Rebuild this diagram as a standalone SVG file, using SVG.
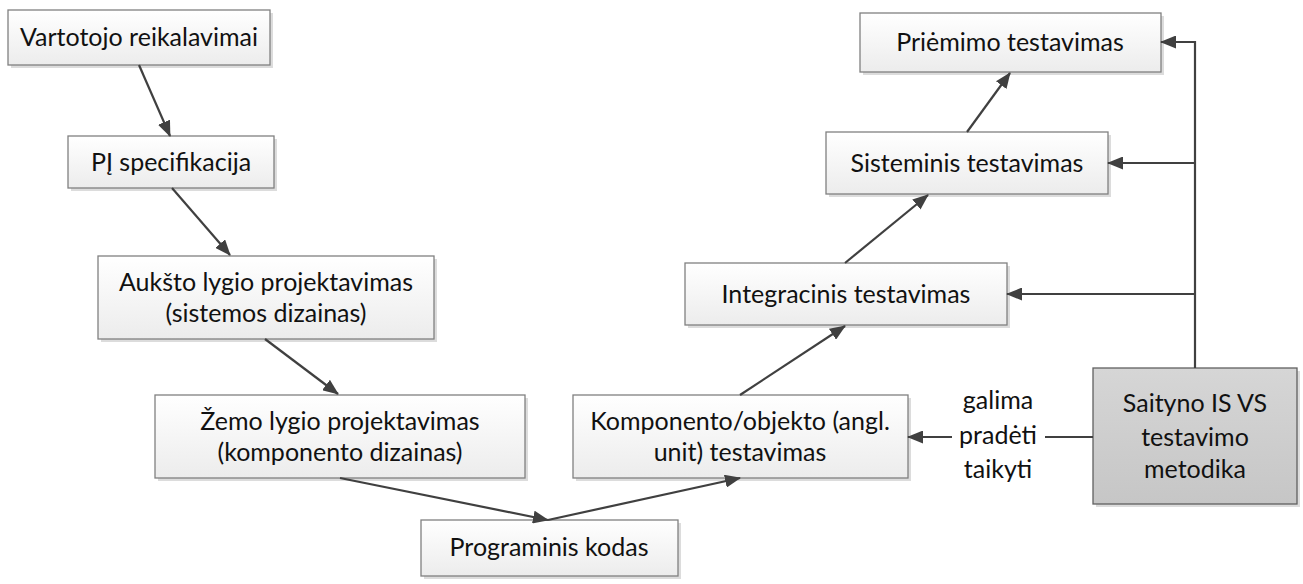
<svg xmlns="http://www.w3.org/2000/svg" width="1303" height="584" viewBox="0 0 1303 584">
<style>
.box{fill:url(#g);stroke:#808080;stroke-width:1.3}
.dark{fill:url(#gd);stroke:#606060;stroke-width:1.3}
.sh{fill:#dcdcdc}
text{font-family:Lato,"Open Sans","Liberation Sans",sans-serif;font-size:25px;fill:#111;text-anchor:middle}
.c{fill:none;stroke:#404040;stroke-width:2.2}
</style>
<defs>
<linearGradient id="g" x1="0" y1="0" x2="0" y2="1"><stop offset="0" stop-color="#ffffff"/><stop offset="1" stop-color="#ececec"/></linearGradient>
<linearGradient id="gd" x1="0" y1="0" x2="0" y2="1"><stop offset="0" stop-color="#d6d6d6"/><stop offset="1" stop-color="#c6c6c6"/></linearGradient>
<marker id="a" viewBox="0 0 16 13" refX="15" refY="6.5" markerWidth="16" markerHeight="13" markerUnits="userSpaceOnUse" orient="auto"><path d="M0,0 L16,6.5 L0,13 Z" fill="#404040"/></marker>
</defs>
<g id="n1"><rect class="sh" x="11" y="13" width="262" height="55"/><rect class="box" x="8" y="10" width="262" height="55"/><text x="139" y="46">Vartotojo reikalavimai</text></g>
<g id="n2"><rect class="sh" x="71" y="139" width="206" height="52"/><rect class="box" x="68" y="136" width="206" height="52"/><text x="171" y="171">PĮ specifikacija</text></g>
<g id="n3"><rect class="sh" x="101" y="259" width="336" height="83"/><rect class="box" x="98" y="256" width="336" height="83"/><text x="266" y="291">Aukšto lygio projektavimas</text><text x="266" y="322">(sistemos dizainas)</text></g>
<g id="n4"><rect class="sh" x="158" y="398" width="370" height="83"/><rect class="box" x="155" y="395" width="370" height="83"/><text x="340" y="430">Žemo lygio projektavimas</text><text x="340" y="461">(komponento dizainas)</text></g>
<g id="n5"><rect class="sh" x="424" y="523" width="257" height="56"/><rect class="box" x="421" y="520" width="257" height="56"/><text x="549" y="556">Programinis kodas</text></g>
<g id="n6"><rect class="sh" x="576" y="398" width="335" height="83"/><rect class="box" x="573" y="395" width="335" height="83"/><text x="740" y="430">Komponento/objekto (angl.</text><text x="740" y="461">unit) testavimas</text></g>
<g id="n7"><rect class="sh" x="688" y="266" width="322" height="62"/><rect class="box" x="685" y="263" width="322" height="62"/><text x="846" y="303">Integracinis testavimas</text></g>
<g id="n8"><rect class="sh" x="829" y="135" width="282" height="62"/><rect class="box" x="826" y="132" width="282" height="62"/><text x="967" y="172">Sisteminis testavimas</text></g>
<g id="n9"><rect class="sh" x="863" y="16" width="301" height="59"/><rect class="box" x="860" y="13" width="301" height="59"/><text x="1010" y="51">Priėmimo testavimas</text></g>
<g id="n10"><rect class="sh" x="1096" y="371" width="204" height="136"/><rect class="dark" x="1093" y="368" width="204" height="136"/><text x="1195" y="412">Saityno IS VS</text><text x="1195" y="446">testavimo</text><text x="1195" y="478">metodika</text></g>
<g id="connectors">
<line class="c" x1="139" y1="65" x2="170" y2="136" marker-end="url(#a)"/>
<line class="c" x1="172" y1="188" x2="230" y2="255" marker-end="url(#a)"/>
<line class="c" x1="265" y1="339" x2="338" y2="394" marker-end="url(#a)"/>
<line class="c" x1="340" y1="478" x2="548" y2="520" marker-end="url(#a)"/>
<line class="c" x1="548" y1="520" x2="740" y2="478" marker-end="url(#a)"/>
<line class="c" x1="740" y1="395" x2="845" y2="326" marker-end="url(#a)"/>
<line class="c" x1="845" y1="263" x2="928" y2="195" marker-end="url(#a)"/>
<line class="c" x1="967" y1="132" x2="1010" y2="73" marker-end="url(#a)"/>
<polyline class="c" points="1195,368 1195,42 1161,42" marker-end="url(#a)"/>
<line class="c" x1="1195" y1="163" x2="1108" y2="163" marker-end="url(#a)"/>
<line class="c" x1="1195" y1="294" x2="1007" y2="294" marker-end="url(#a)"/>
<line class="c" x1="1093" y1="437" x2="1045" y2="437"/>
<line class="c" x1="952" y1="437" x2="908" y2="437" marker-end="url(#a)"/>
<text x="998" y="409">galima</text>
<text x="998" y="444">pradėti</text>
<text x="998" y="478">taikyti</text>
</g>
</svg>
